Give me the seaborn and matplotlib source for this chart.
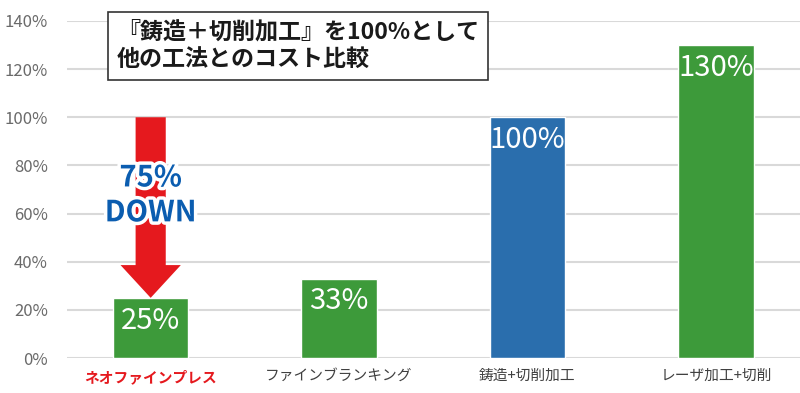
import matplotlib
matplotlib.use("Agg")
import matplotlib.pyplot as plt
import matplotlib.patheffects as pe
import seaborn as sns
import pandas as pd

categories = ["ネオファインプレス", "ファインブランキング", "鋳造+切削加工", "レーザ加工+切削"]
values = [25, 33, 100, 130]
bar_colors = ["#3d9a3a", "#3d9a3a", "#2a6ead", "#3d9a3a"]
yticks = [0, 20, 40, 60, 80, 100, 120, 140]
title_lines = ["『鋳造＋切削加工』を100%として", "他の工法とのコスト比較"]
down_lines = ["75%", "DOWN"]

sns.set_theme(style="white")
plt.rcParams['font.family'] = ['Noto Sans CJK JP', 'DejaVu Sans']

df = pd.DataFrame({"cat": categories, "val": values})

fig = plt.figure(figsize=(8, 3.93), dpi=100)
ax = fig.add_axes([0.084, 0.089, 0.916, 0.8577])

sns.barplot(data=df, x="cat", y="val", hue="cat", palette=bar_colors,
            width=0.40, legend=False, ax=ax, saturation=1, zorder=3)

ax.set_ylim(0, 140)
ax.set_xlim(-0.443, 3.446)
ax.set_yticks(yticks)
ax.set_yticklabels([f"{v}%" for v in yticks], fontsize=12, color="#6a6a6a")
ax.yaxis.grid(True, color="#d9d9d9", linewidth=1.5, zorder=0)
ax.set_xlabel("")
ax.set_ylabel("")
for s in ax.spines.values():
    s.set_visible(False)
ax.tick_params(axis="both", length=0)
ax.tick_params(axis="y", pad=14)
ax.tick_params(axis="x", pad=8)
for i, lbl in enumerate(ax.get_xticklabels()):
    lbl.set_fontsize(10.6)
    if i == 0:
        lbl.set_color("#e5191e")
        lbl.set_fontweight("bold")
    else:
        lbl.set_color("#404040")

# value labels
for i, v in enumerate(values):
    ax.text(i, v - 9.5, f"{v}%", ha="center", va="center", color="white",
            fontsize=21, zorder=6)

# red down arrow from reference (100%) to neo fine press value
top = values[2]
tip = values[0]
head_base = tip + 13.6
sw, hw = 0.08, 0.16
ax.fill([-sw, sw, sw, hw, 0, -hw, -sw, -sw],
        [top, top, head_base, head_base, tip, head_base, head_base, top],
        color="#e5191e", zorder=4, linewidth=0)

stroke = [pe.withStroke(linewidth=5, foreground="white")]
ax.text(0, 75, down_lines[0], ha="center", va="center", color="#0b5db0",
        fontsize=21, fontweight="bold", zorder=7, path_effects=stroke)
ax.text(0, 60.5, down_lines[1], ha="center", va="center", color="#0b5db0",
        fontsize=21, fontweight="bold", zorder=7, path_effects=stroke)

# title box
fig.text(0.146, 0.883, title_lines[0] + "\n" + title_lines[1],
         ha="left", va="center", fontsize=16.6, fontweight="bold",
         color="#1a1a1a", linespacing=1.25, zorder=10,
         bbox=dict(boxstyle="square,pad=0.4", facecolor="white",
                   edgecolor="#333333", linewidth=1.2))

fig.savefig("out.png", dpi=100)
